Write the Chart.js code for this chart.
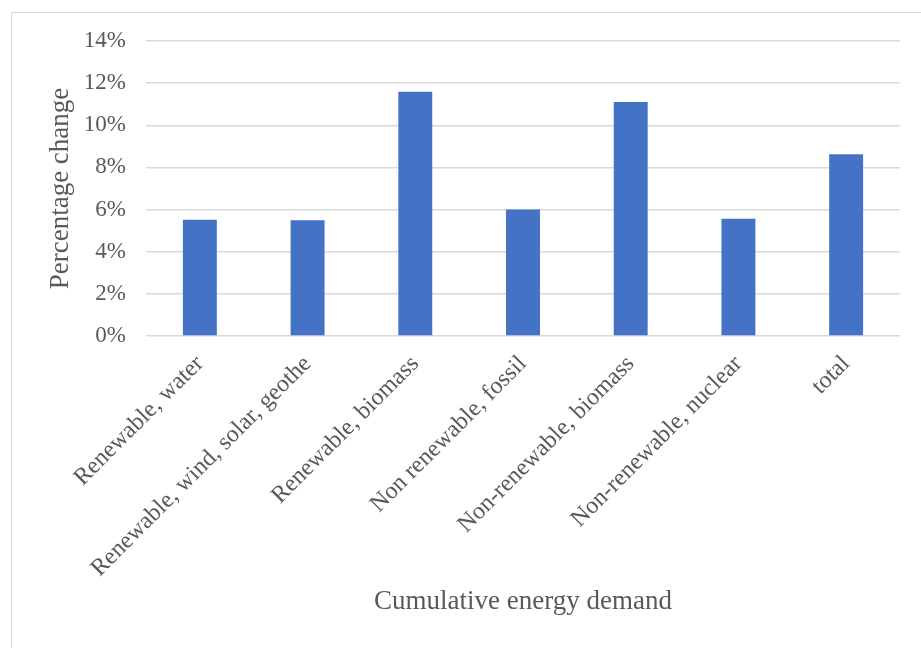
<!DOCTYPE html>
<html>
<head>
<meta charset="utf-8">
<script src="https://cdn.jsdelivr.net/npm/chart.js@4.4.1/dist/chart.umd.min.js"></script>
<style>
  html, body { margin: 0; padding: 0; background: #ffffff; }
  #wrap { position: relative; width: 921px; height: 648px; overflow: hidden; }
  #frame { position: absolute; left: 11px; top: 12px; width: 940px; height: 660px; border: 1px solid #d9d9d9; box-sizing: border-box; }
  #chart { position: absolute; left: 0; top: 0; }
</style>
</head>
<body>
<div id="wrap">
  <div id="frame"></div>
  <canvas id="chart" width="921" height="648"></canvas>
</div>
<script>
// Cumulative energy demand, percentage change per category
const categories = [
  "Renewable, water",
  "Renewable, wind, solar, geothe",
  "Renewable, biomass",
  "Non renewable, fossil",
  "Non-renewable, biomass",
  "Non-renewable, nuclear",
  "total"
];
const percentChange = [5.52, 5.49, 11.59, 6.0, 11.1, 5.57, 8.62];
const yTicks = [0, 2, 4, 6, 8, 10, 12, 14];

const textColor = "#595959";
const serif = "'Liberation Serif', 'Times New Roman', serif";

new Chart(document.getElementById("chart"), {
  type: "bar",
  data: {
    labels: categories,
    datasets: [{
      data: percentChange,
      backgroundColor: "#4472C4",
      borderWidth: 0,
      categoryPercentage: 1,
      barPercentage: 0.315
    }]
  },
  options: {
    responsive: false,
    animation: false,
    devicePixelRatio: 1,
    layout: { padding: { left: 0, right: 21, top: 41, bottom: 0 } },
    plugins: { legend: { display: false }, tooltip: { enabled: false } },
    scales: {
      x: {
        grid: { display: false },
        border: { display: false },
        ticks: {
          autoSkip: false,
          maxRotation: 45,
          minRotation: 45,
          padding: 6,
          color: textColor,
          font: { family: serif, size: 24 }
        },
        title: {
          display: true,
          text: "Cumulative energy demand",
          color: textColor,
          font: { family: serif, size: 27 },
          padding: { top: 0, bottom: 30 }
        },
        afterFit(scale) { scale.height = 312; }
      },
      y: {
        min: 0,
        max: 14,
        afterBuildTicks(scale) { scale.ticks = yTicks.map(v => ({ value: v })); },
        grid: { color: "#d9d9d9", lineWidth: 1.5, drawTicks: false },
        border: { display: false },
        ticks: {
          padding: 20,
          color: textColor,
          font: { family: serif, size: 23 },
          callback: v => v + "%"
        },
        title: {
          display: true,
          text: "Percentage change",
          color: textColor,
          font: { family: serif, size: 27 },
          padding: { top: 45, bottom: 0 }
        },
        afterFit(scale) { scale.width = 146; }
      }
    }
  }
});
</script>
</body>
</html>
